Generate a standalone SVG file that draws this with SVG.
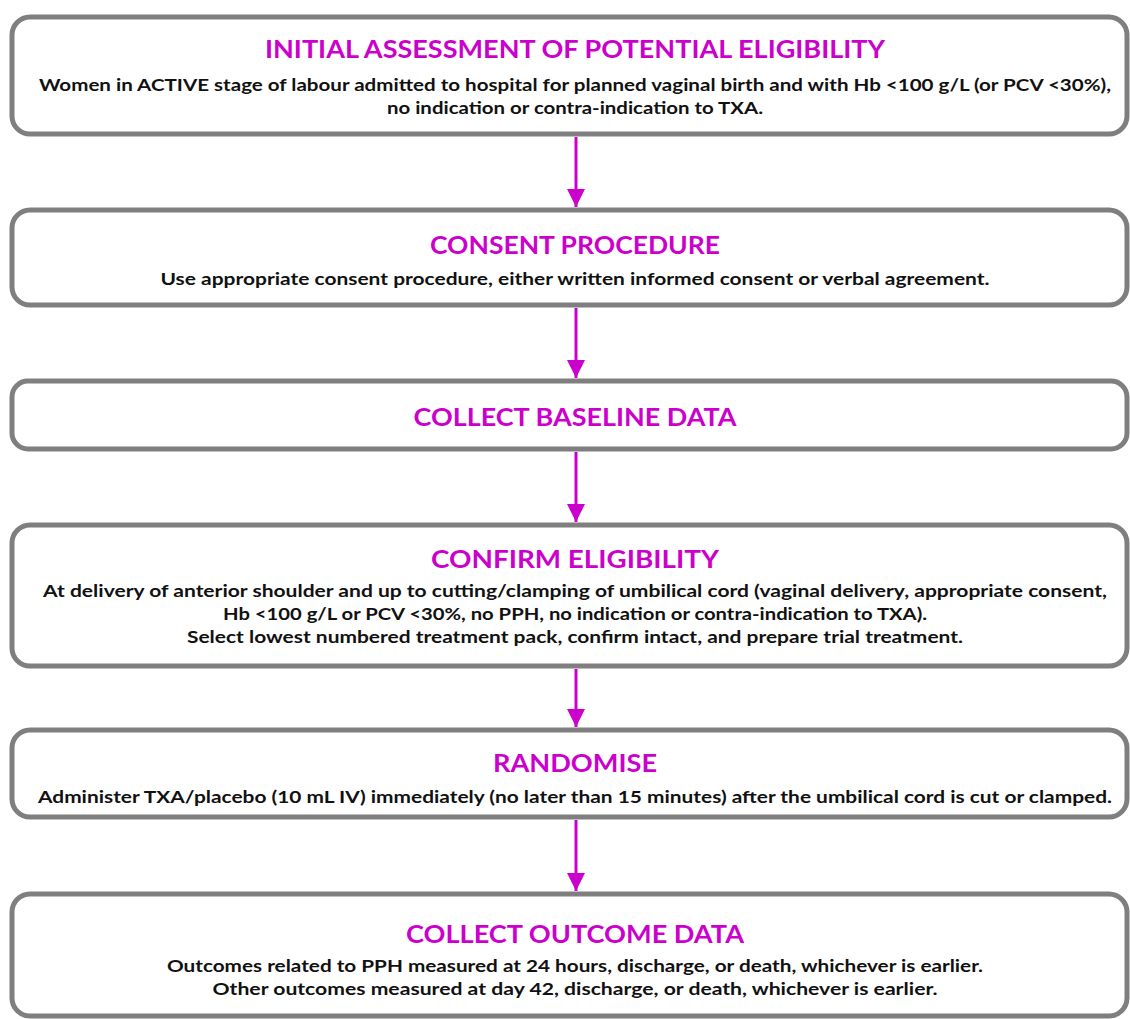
<svg xmlns="http://www.w3.org/2000/svg" width="1130" height="1019" viewBox="0 0 1130 1019">
  <defs>
    <style>
      .box { fill: #ffffff; stroke: #7f7f7f; stroke-width: 5; }
      .title { font-family: "Lato", "Liberation Sans", sans-serif; font-weight: bold; font-size: 24px; fill: #cc00cc; text-anchor: middle; }
      .body { font-family: "Lato", "Liberation Sans", sans-serif; font-weight: bold; font-size: 17px; fill: #111111; text-anchor: middle; }
      .conn { stroke: #cc00cc; stroke-width: 3; fill: none; }
    </style>
    <marker id="arrow" viewBox="0 0 10 10" refX="10" refY="5" markerWidth="6" markerHeight="6" markerUnits="strokeWidth" orient="auto">
      <path d="M0,0 L10,5 L0,10 Z" fill="#cc00cc"/>
    </marker>
  </defs>

  <!-- steps of the flow -->
  <g id="step-initial-assessment">
    <rect class="box" x="12" y="17" width="1115" height="117" rx="18" ry="18"/>
    <text class="title" x="575" y="58" textLength="620" lengthAdjust="spacingAndGlyphs">INITIAL ASSESSMENT OF POTENTIAL ELIGIBILITY</text>
    <text class="body" x="575" y="91" textLength="1072" lengthAdjust="spacingAndGlyphs">Women in ACTIVE stage of labour admitted to hospital for planned vaginal birth and with Hb &lt;100  g/L (or PCV &lt;30%),</text>
    <text class="body" x="575" y="114" textLength="376" lengthAdjust="spacingAndGlyphs">no indication or contra-indication to TXA.</text>
  </g>

  <g id="step-consent">
    <rect class="box" x="12" y="210" width="1115" height="95" rx="18" ry="18"/>
    <text class="title" x="575" y="254" textLength="290" lengthAdjust="spacingAndGlyphs">CONSENT PROCEDURE</text>
    <text class="body" x="575" y="285" textLength="829" lengthAdjust="spacingAndGlyphs">Use appropriate consent procedure, either written informed consent or verbal agreement.</text>
  </g>

  <g id="step-baseline">
    <rect class="box" x="12" y="381" width="1115" height="68" rx="16" ry="16"/>
    <text class="title" x="575" y="426" textLength="323" lengthAdjust="spacingAndGlyphs">COLLECT BASELINE DATA</text>
  </g>

  <g id="step-confirm-eligibility">
    <rect class="box" x="12" y="525" width="1115" height="141" rx="18" ry="18"/>
    <text class="title" x="575" y="568" textLength="288" lengthAdjust="spacingAndGlyphs">CONFIRM ELIGIBILITY</text>
    <text class="body" x="575" y="597" textLength="1064" lengthAdjust="spacingAndGlyphs">At delivery of anterior shoulder and up to cutting/clamping of umbilical cord (vaginal delivery, appropriate consent,</text>
    <text class="body" x="575" y="620" textLength="704" lengthAdjust="spacingAndGlyphs">Hb &lt;100  g/L or PCV &lt;30%, no PPH, no indication or contra-indication to TXA).</text>
    <text class="body" x="575" y="643" textLength="776" lengthAdjust="spacingAndGlyphs">Select lowest numbered treatment pack, confirm intact, and prepare trial treatment.</text>
  </g>

  <g id="step-randomise">
    <rect class="box" x="12" y="730" width="1115" height="87" rx="18" ry="18"/>
    <text class="title" x="575" y="772" textLength="164" lengthAdjust="spacingAndGlyphs">RANDOMISE</text>
    <text class="body" x="575" y="803" textLength="1074" lengthAdjust="spacingAndGlyphs">Administer TXA/placebo (10 mL IV) immediately (no later than 15 minutes) after the umbilical cord is cut or clamped.</text>
  </g>

  <g id="step-outcome">
    <rect class="box" x="12" y="894" width="1115" height="122" rx="18" ry="18"/>
    <text class="title" x="575" y="943" textLength="338" lengthAdjust="spacingAndGlyphs">COLLECT OUTCOME DATA</text>
    <text class="body" x="575" y="972" textLength="816" lengthAdjust="spacingAndGlyphs">Outcomes related to PPH measured at 24 hours, discharge, or death, whichever is earlier.</text>
    <text class="body" x="575" y="995" textLength="725" lengthAdjust="spacingAndGlyphs">Other outcomes measured at day 42, discharge, or death, whichever is earlier.</text>
  </g>

  <!-- connectors between steps -->
  <g id="connectors">
    <line class="conn" x1="576" y1="137" x2="576" y2="207" marker-end="url(#arrow)"/>
    <line class="conn" x1="576" y1="308" x2="576" y2="378" marker-end="url(#arrow)"/>
    <line class="conn" x1="576" y1="452" x2="576" y2="522" marker-end="url(#arrow)"/>
    <line class="conn" x1="576" y1="669" x2="576" y2="727" marker-end="url(#arrow)"/>
    <line class="conn" x1="576" y1="820" x2="576" y2="891" marker-end="url(#arrow)"/>
  </g>
</svg>
